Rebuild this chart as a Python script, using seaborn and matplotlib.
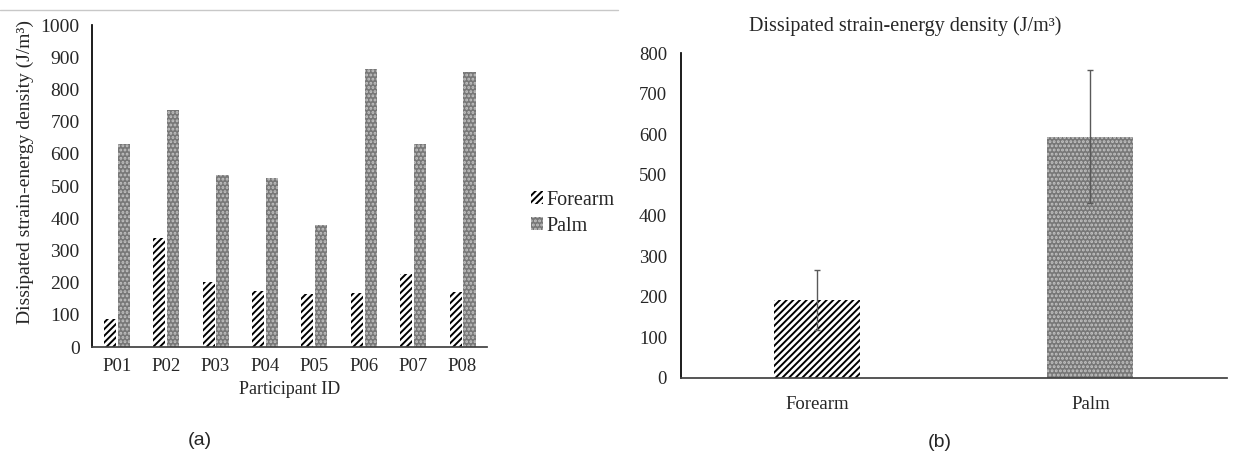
import numpy as np
import pandas as pd
import matplotlib
matplotlib.use('Agg')
import matplotlib.pyplot as plt
import seaborn as sns
from matplotlib.patches import Patch
from matplotlib.lines import Line2D

# Data
participants = ['P01', 'P02', 'P03', 'P04', 'P05', 'P06', 'P07', 'P08']
forearm_vals = [87, 339, 203, 174, 164, 169, 226, 172]
palm_vals = [630, 735, 534, 525, 379, 863, 630, 855]

sites = ['Forearm', 'Palm']
site_means = [192, 594]
site_sd = [73, 163]

sns.set_theme(style='white')
plt.rcParams['font.family'] = ['Liberation Serif', 'DejaVu Serif']
plt.rcParams['hatch.linewidth'] = 1.4

AXIS_GRAY = '#404040'
TICK_GRAY = '#7f7f7f'
PALM_GRAY = '#777777'
PALM_DOT = '#c4c4c4'
YLABEL = 'Dissipated strain-energy density (J/m\u00b3)'

fig = plt.figure(figsize=(12.35, 4.59), dpi=100)

# ---------- (a) per participant ----------
df = pd.DataFrame({
    'Participant': participants * 2,
    'Site': ['Forearm'] * len(participants) + ['Palm'] * len(participants),
    'Energy': forearm_vals + palm_vals,
})

ax1 = fig.add_axes([0.0745, 0.244, 0.320, 0.7015])
sns.barplot(data=df, x='Participant', y='Energy', hue='Site', ax=ax1,
            width=0.56, gap=0.12, legend=False, errorbar=None)

n = len(participants)
for i, bar in enumerate(ax1.patches[:2 * n]):
    if i < n:
        bar.set_facecolor('white')
        bar.set_edgecolor('black')
        bar.set_hatch('/////')
    else:
        bar.set_facecolor(PALM_GRAY)
        bar.set_edgecolor(PALM_DOT)
        bar.set_hatch('....')
    bar.set_linewidth(0)

ax1.set_ylim(0, 1000)
ax1.set_xlim(-0.5, 7.5)
ax1.set_yticks(np.arange(0, 1001, 100))
ax1.set_xlabel('Participant ID', fontsize=13)
ax1.set_ylabel(YLABEL, fontsize=14)
ax1.yaxis.set_label_coords(-0.148, 0.545)
ax1.tick_params(axis='y', labelsize=14)
ax1.tick_params(axis='x', labelsize=13.5)
ax1.tick_params(axis='y', direction='inout', length=6, width=1, color=TICK_GRAY, pad=6)
ax1.tick_params(axis='x', length=0, pad=8)
for s in ['top', 'right']:
    ax1.spines[s].set_visible(False)
ax1.spines['left'].set_color('black')
ax1.spines['bottom'].set_color(AXIS_GRAY)

handles = [
    Patch(facecolor='white', edgecolor='black', hatch='/////', linewidth=0),
    Patch(facecolor=PALM_GRAY, edgecolor=PALM_DOT, hatch='....', linewidth=0),
]
ax1.legend(handles, sites, loc='center left', bbox_to_anchor=(1.065, 0.415),
           frameon=False, fontsize=14.5, handlelength=0.6, handleheight=0.6,
           handletextpad=0.15, labelspacing=0.35)

# ---------- (b) mean with SD ----------
df2 = pd.DataFrame({'Site': sites, 'Mean': site_means, 'SD': site_sd})

ax2 = fig.add_axes([0.5514, 0.1765, 0.442, 0.708])
sns.barplot(data=df2, x='Site', y='Mean', ax=ax2, width=0.315,
            errorbar=None, color='white')
styles = [('white', 'black', '/////'), (PALM_GRAY, PALM_DOT, '....')]
for bar, (fc, ec, h) in zip(ax2.patches, styles):
    bar.set_facecolor(fc)
    bar.set_edgecolor(ec)
    bar.set_hatch(h)
    bar.set_linewidth(0)
ax2.errorbar(x=np.arange(len(sites)), y=df2['Mean'], yerr=df2['SD'],
             fmt='none', ecolor='#595959', elinewidth=1, capsize=2.5, capthick=1)

ax2.set_ylim(0, 800)
ax2.set_xlim(-0.5, 1.5)
ax2.set_yticks(np.arange(0, 801, 100))
ax2.set_xlabel('')
ax2.set_ylabel('')
ax2.set_title(YLABEL, fontsize=14.5, pad=16, x=0.41)
ax2.tick_params(axis='both', labelsize=13.5)
ax2.tick_params(axis='y', direction='inout', length=6, width=1, color=TICK_GRAY, pad=7)
ax2.tick_params(axis='x', length=0, pad=13)
for s in ['top', 'right']:
    ax2.spines[s].set_visible(False)
ax2.spines['left'].set_color('black')
ax2.spines['bottom'].set_color(AXIS_GRAY)

# panel labels and top separator line
fig.text(0.162, 0.04, '(a)', ha='center', va='center', fontsize=14,
         family=['Liberation Sans', 'DejaVu Sans'])
fig.text(0.761, 0.035, '(b)', ha='center', va='center', fontsize=14,
         family=['Liberation Sans', 'DejaVu Sans'])
fig.add_artist(Line2D([0, 0.5], [0.978, 0.978], color='#c8c8c8', lw=1))

fig.savefig('out.png', dpi=100)
